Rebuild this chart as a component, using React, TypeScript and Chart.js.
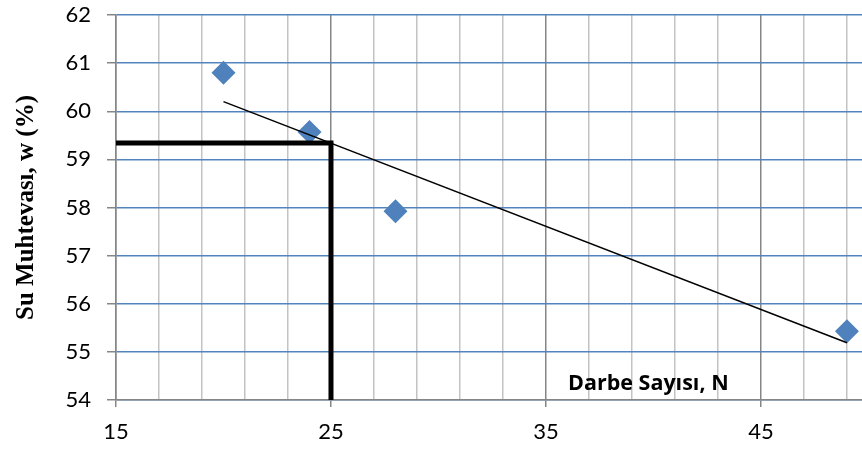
import { useEffect, useRef } from 'react';
import { Chart, registerables } from 'chart.js';

Chart.register(...registerables);

// Measured points: blow count N vs. water content w (%)
const blowCounts = [20, 24, 28, 49];
const waterContents = [60.8, 59.57, 57.92, 55.43];

// Linear trend line end points
const trendBlows = [20, 49];
const trendWater = [60.2, 55.19];

// Liquid-limit read-off at N = 25
const readOffBlows = [15, 25, 25];
const readOffWater = [59.34, 59.34, 54];

// Axis ticks
const xGridValues = [15, 17, 19, 21, 23, 25, 27, 29, 31, 33, 35, 37, 39, 41, 43, 45, 47, 49];
const xLabelValues = [15, 25, 35, 45];
const xMajorLines = [15, 25, 35, 45];
const yMin = 54;
const yMax = 62;

const xTitle = 'Darbe Sayısı, N';
const yTitle = 'Su Muhtevası, w (%)';

const BLUE = '#4F81BD';
const AXIS_GRAY = '#868686';
const MINOR_GRAY = '#C3C3C3';
const GRID_BLUE = '#5384C0';
const LABEL_FONT = 'Lato, "Open Sans", sans-serif';

const toPoints = (xs: number[], ys: number[]) => xs.map((x, i) => ({ x, y: ys[i] }));

const xTitlePlugin = {
  id: 'xTitleInside',
  afterDatasetsDraw(chart: any) {
    const { ctx } = chart;
    ctx.save();
    ctx.font = 'bold 21.5px "Open Sans", Lato, sans-serif';
    ctx.fillStyle = '#000';
    ctx.textAlign = 'left';
    ctx.textBaseline = 'alphabetic';
    ctx.fillText(xTitle, 568, 390);
    ctx.restore();
  },
};

export default function App() {
  const canvasRef = useRef<HTMLCanvasElement | null>(null);

  useEffect(() => {
    const canvas = canvasRef.current;
    if (!canvas) return;
    const chart = new Chart(canvas, {
      type: 'scatter',
      data: {
        datasets: [
          {
            type: 'line',
            data: toPoints(trendBlows, trendWater),
            borderColor: '#000',
            borderWidth: 1.5,
            pointRadius: 0,
            fill: false,
          } as any,
          {
            type: 'line',
            data: toPoints(readOffBlows, readOffWater),
            borderColor: '#000',
            borderWidth: 5,
            borderJoinStyle: 'miter',
            borderCapStyle: 'butt',
            pointRadius: 0,
            fill: false,
          } as any,
          {
            type: 'scatter',
            data: toPoints(blowCounts, waterContents),
            pointStyle: 'rectRot',
            pointRadius: 12,
            backgroundColor: BLUE,
            borderColor: BLUE,
            borderWidth: 0,
          },
        ],
      },
      options: {
        responsive: false,
        animation: false,
        devicePixelRatio: 1,
        layout: { autoPadding: false, padding: { top: 15, left: 0, right: 0, bottom: 0 } },
        plugins: {
          legend: { display: false },
          tooltip: { enabled: false },
        },
        scales: {
          x: {
            type: 'linear',
            min: 15,
            max: 49.7,
            afterBuildTicks: (scale: any) => {
              scale.ticks = xGridValues.map((value) => ({ value }));
            },
            afterFit: (scale: any) => {
              scale.height = 52;
              scale.paddingLeft = 0;
              scale.paddingRight = 0;
            },
            ticks: {
              autoSkip: false,
              maxRotation: 0,
              padding: 12,
              color: '#000',
              font: { family: LABEL_FONT, size: 22 },
              callback: (value: any) => (xLabelValues.includes(Number(value)) ? String(value) : ''),
            },
            grid: {
              lineWidth: 1.5,
              tickLength: 7,
              color: (ctx: any) =>
                ctx.tick && xMajorLines.includes(ctx.tick.value) ? AXIS_GRAY : MINOR_GRAY,
              tickColor: (ctx: any) =>
                ctx.tick && xLabelValues.includes(ctx.tick.value) ? AXIS_GRAY : 'rgba(0,0,0,0)',
            },
            border: { color: AXIS_GRAY, width: 1.5 },
          },
          y: {
            type: 'linear',
            min: yMin,
            max: yMax,
            afterFit: (scale: any) => {
              scale.width = 116;
              scale.paddingTop = 0;
              scale.paddingBottom = 0;
            },
            ticks: {
              stepSize: 1,
              padding: 16,
              color: '#000',
              font: { family: LABEL_FONT, size: 22 },
            },
            grid: {
              lineWidth: 1.5,
              tickLength: 9,
              color: GRID_BLUE,
              tickColor: AXIS_GRAY,
            },
            border: { color: AXIS_GRAY, width: 1.5 },
            title: {
              display: true,
              text: yTitle,
              color: '#000',
              font: { family: '"Liberation Serif", "Times New Roman", serif', size: 25, weight: 'bold' },
              padding: { top: 12, bottom: 0 },
            },
          },
        },
      },
      plugins: [xTitlePlugin],
    });
    return () => chart.destroy();
  }, []);

  return (
    <div style={{ position: 'absolute', left: 0, top: 0, width: 862, height: 452, background: '#fff' }}>
      <canvas ref={canvasRef} width={862} height={452} style={{ display: 'block' }} />
    </div>
  );
}
